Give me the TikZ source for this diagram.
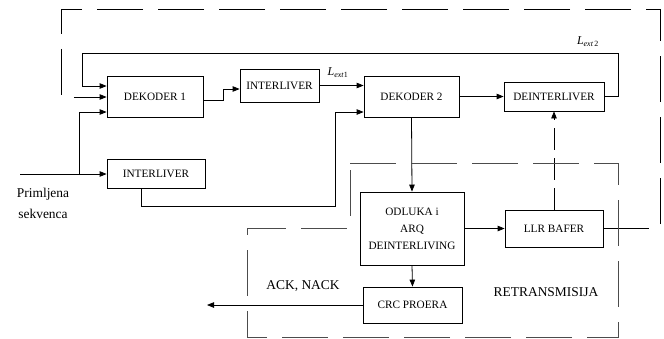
\documentclass[tikz,border=0pt]{standalone}
\usepackage{fontspec}
\setmainfont{Liberation Serif}
\usetikzlibrary{arrows.meta}
\begin{document}
\begin{tikzpicture}[x=1bp,y=-1bp,
  blk/.style={draw, line width=0.8pt, inner sep=1pt, align=center,
    font=\fontsize{11.3}{14}\selectfont},
  conn/.style={line width=0.8pt},
  arr/.style={conn, -{Triangle[length=7bp,width=5.5bp]}},
  dsh/.style={line width=0.9pt, black!70, dash pattern=on 46bp off 15bp},
  lbl/.style={font=\fontsize{13.5}{21}\selectfont, align=center, inner sep=0pt},
  ext/.style={font=\fontsize{12}{14}\selectfont, inner sep=0pt}]
\useasboundingbox (0,0) rectangle (664,338);

% blocks
\node[blk, minimum width=96bp, minimum height=41bp] (dek1) at (155,96.5) {DEKODER 1};
\node[blk, minimum width=79bp, minimum height=33bp] (int1) at (279.5,85.5) {INTERLIVER};
\node[blk, minimum width=95bp, minimum height=41bp] (dek2) at (411.5,96.5) {DEKODER 2};
\node[blk, minimum width=100bp, minimum height=29bp] (deint) at (554,96.5) {DEINTERLIVER};
\node[blk, minimum width=98bp, minimum height=29bp] (int2) at (156,173.5) {INTERLIVER};
\node[blk, minimum width=104bp, minimum height=73bp, font=\fontsize{11.3}{17}\selectfont] (odl) at (412,228.5) {ODLUKA i\\ARQ\\DEINTERLIVING};
\node[blk, minimum width=98bp, minimum height=37bp] (llr) at (554,228.5) {LLR BAFER};
\node[blk, minimum width=99bp, minimum height=36bp] (crc) at (412.5,305) {CRC PROERA};

% labels
\node[lbl] (prim) at (43,203.5) {Primljena\\sekvenca};
\node[lbl] (ack) at (303,286) {ACK, NACK};
\node[lbl] (retr) at (546,292) {RETRANSMISIJA};
\node[ext] (le1) at (338,73) {\textit{L}\textsubscript{\textit{ext}1}};
\node[ext] (le2) at (588,42) {\textit{L}\textsubscript{\textit{ext}\,2}};

% coordinates
\coordinate (in) at (20,174);
\coordinate (br) at (79,174);
\coordinate (ackend) at (207,305);

% connectors
\draw[arr] (in) -- (int2.west |- in);
\draw[arr] (br) |- (dek1.west |- 0,112);
\draw[arr] (dek1.east |- 0,100) -- (223,100) |- (int1.west |- 0,89);
\draw[arr] (int1.east) -- (dek2.west |- int1.east);
\draw[arr] (int2.south -| 141,0) |- (335,206) |- (dek2.west |- 0,112);
\draw[arr] (dek2.east) -- (deint.west);
\draw[arr] (deint.east) -| (618,53) -| (82,86) -- (dek1.west |- 0,86);
\draw[arr] (dek2.south) -- (odl.north);
\draw[arr] (odl.east) -- (llr.west |- odl.east);
\draw[arr] (odl.south) -- (crc.north);
\draw[arr] (crc.west) -- (ackend);
\draw[arr, dash pattern=on 22bp off 8bp] (llr.north) -- (deint.south);

% outer dashed loop (retransmission feedback)
\draw[dsh, black, line width=0.8pt, -{Triangle[length=7bp,width=5.5bp]}]
  (llr.east) -- (660,228.5) -- (660,9) -- (61,9) -- (61,97) -- (dek1.west |- 0,97);

% inner dashed region
\draw[dsh] (350,163) -- (618,163) -- (618,337) -- (247,337) -- (247,228) -- (350,228) -- cycle;
\end{tikzpicture}
\end{document}
